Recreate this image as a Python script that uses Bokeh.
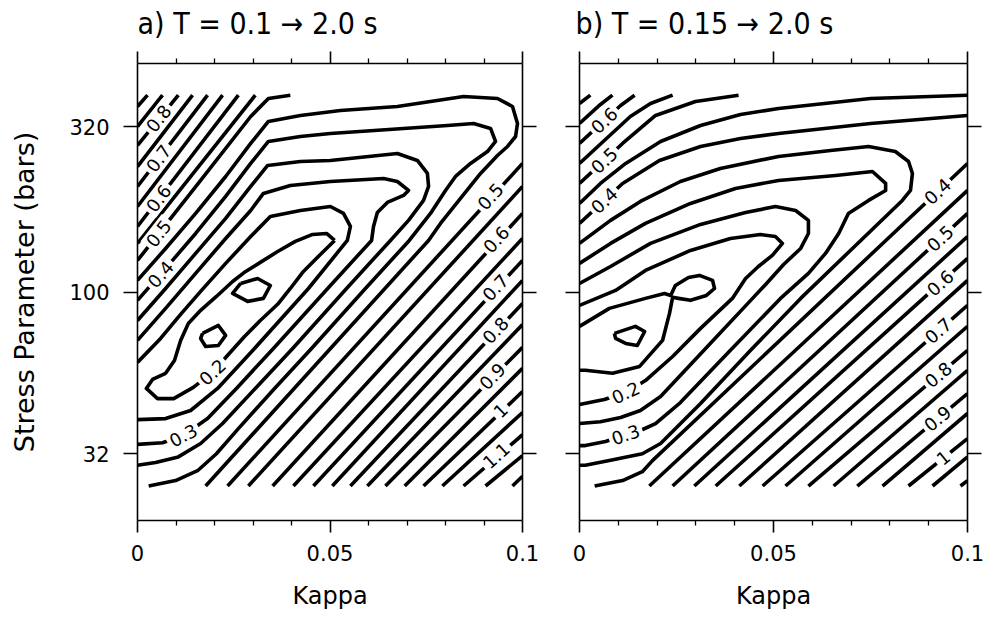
import math
from bokeh.plotting import figure
from bokeh.models import (ColumnDataSource, FixedTicker, LinearAxis, LogAxis,
                          Range1d, CustomJSTickFormatter, CustomLabelingPolicy)
from bokeh.layouts import row
from bokeh.embed import file_html
from bokeh.resources import INLINE
from bokeh.core.properties import value

# ---------------- axes, ticks, texts ----------------
KAPPA_LIMITS = [0.0, 0.1]
STRESS_LIMITS = [20.0, 500.0]
KAPPA_TICKS = [0.0, 0.05, 0.1]
KAPPA_TICK_LABELS = ["0", "0.05", "0.1"]
KAPPA_MINOR_TICKS = [0.01, 0.02, 0.03, 0.04, 0.06, 0.07, 0.08, 0.09]
STRESS_TICKS = [32, 100, 320]
STRESS_TICK_LABELS = ["32", "100", "320"]
X_LABEL = "Kappa"
Y_LABEL = "Stress Parameter (bars)"
TITLE_A = "a) T = 0.1 \u2192 2.0 s"
TITLE_B = "b) T = 0.15 \u2192 2.0 s"

# edges of the misfit grid, where the contour lines stop
GRID_STRESS_BOTTOM = 25.5
GRID_STRESS_TOP = 400.0
GRID_KAPPA_LEFT = 0.0
GRID_KAPPA_RIGHT = 0.1

# ================= panel a : T = 0.1 -> 2.0 s =================
A_C015_LOOP1_KAPPA = [0.0268, 0.0312, 0.0345, 0.0327, 0.0286, 0.0247, 0.0268]
A_C015_LOOP1_STRESS = [106.2, 110.0, 104.7, 95.6, 93.6, 99.0, 106.2]
A_C015_LOOP2_KAPPA = [0.0169, 0.0210, 0.0229, 0.0210, 0.0177, 0.0164, 0.0169]
A_C015_LOOP2_STRESS = [74.7, 79.0, 73.7, 68.6, 68.1, 72.1, 74.7]

A_C020_KAPPA = [0.0512, 0.0475, 0.0431, 0.0397, 0.0364, 0.0319, 0.0278, 0.0236, 0.0195, 0.0145,
                0.0094, 0.0052, 0.0023, 0.0039, 0.0073, 0.0096, 0.0112, 0.0132, 0.0164, 0.0205,
                0.0247, 0.0281, 0.0319, 0.0364, 0.0410, 0.0455, 0.0491, 0.0512]
A_C020_STRESS = [143.8, 130.3, 115.6, 102.5, 91.7, 81.8, 73.1, 64.4, 56.8, 51.1,
                 47.2, 47.2, 50.7, 54.0, 56.4, 61.7, 71.1, 80.1, 87.9, 96.9,
                 107.7, 115.6, 123.2, 133.0, 142.8, 150.0, 151.0, 143.8]

A_C025_KAPPA = [0.0, 0.0060, 0.0112, 0.0164, 0.0229, 0.0294, 0.0345, 0.0423, 0.0501, 0.0535,
                0.0553, 0.0545, 0.0444, 0.0304, 0.0208, 0.0138, 0.0073, 0.0]
A_C025_STRESS = [60.9, 72.1, 85.4, 100.4, 122.3, 147.8, 170.3, 177.6, 182.6, 173.9,
                 158.7, 143.8, 102.5, 67.2, 50.7, 43.4, 41.0, 40.7]

A_C030_KAPPA = [0.0, 0.0073, 0.0151, 0.0229, 0.0294, 0.0327, 0.0397, 0.0501, 0.0639, 0.0675,
                0.0704, 0.0691, 0.0649, 0.0623, 0.0613, 0.0608, 0.0494, 0.0353, 0.0257, 0.0182,
                0.0119, 0.0065, 0.0]
A_C030_STRESS = [71.1, 89.1, 114.0, 145.8, 177.6, 200.2, 211.8, 217.8, 222.5, 217.8,
                 204.5, 197.4, 187.9, 175.1, 158.7, 143.8, 102.5, 67.2, 50.7, 41.0,
                 36.4, 34.6, 34.2]

A_C035_KAPPA = [0.0, 0.0073, 0.0151, 0.0229, 0.0294, 0.0338, 0.0423, 0.0501, 0.0675, 0.0727,
                0.0753, 0.0756, 0.0743, 0.0704, 0.0657, 0.0543, 0.0403, 0.0306, 0.0221, 0.0164,
                0.0106, 0.0047, 0.0]
A_C035_STRESS = [81.8, 102.5, 131.2, 167.9, 210.3, 243.8, 250.8, 252.6, 265.3, 252.6,
                 230.5, 210.3, 190.6, 165.6, 143.8, 102.5, 67.2, 50.7, 39.6, 34.4,
                 31.3, 30.1, 29.5]

A_C040_KAPPA = [0.0, 0.0073, 0.0151, 0.0229, 0.0294, 0.0340, 0.0423, 0.0501, 0.0805, 0.0873,
                0.0917, 0.0930, 0.0909, 0.0865, 0.0826, 0.0800, 0.0761, 0.0706, 0.0592, 0.0452,
                0.0356, 0.0262, 0.0205, 0.0156, 0.0099, 0.0029]
A_C040_STRESS = [94.3, 118.1, 151.0, 196.0, 247.3, 288.7, 299.0, 305.4, 323.1, 327.7,
                 316.4, 288.7, 269.0, 247.3, 225.7, 204.5, 173.9, 143.8, 102.5, 67.2,
                 50.7, 38.2, 32.0, 28.4, 26.5, 25.5]

A_C045_KAPPA = [0.0, 0.0073, 0.0151, 0.0229, 0.0294, 0.0340, 0.0423, 0.0527, 0.0675, 0.0847,
                0.0935, 0.0974, 0.0987, 0.0982, 0.0961, 0.0935, 0.0891, 0.0839, 0.0787, 0.0756,
                0.0177]
A_C045_STRESS = [108.5, 135.9, 173.9, 225.6, 284.7, 332.4, 346.7, 359.1, 369.4, 396.3,
                 390.8, 369.4, 327.7, 299.0, 278.7, 261.6, 230.5, 193.3, 162.1, 143.8,
                 25.5]

A_C050_UPPER_KAPPA = [0.0, 0.0164, 0.0294, 0.0340, 0.0397]
A_C050_UPPER_STRESS = [124.9, 219.4, 344.2, 390.8, 400.0]

# upper-left family: from the left edge of the grid to its top edge
A_UL_LEVELS = [0.55, 0.6, 0.65, 0.7, 0.75, 0.8, 0.85, 0.9]
A_UL_STRESS_AT_LEFT = [140.8, 158.7, 182.6, 210.3, 242.0, 280.7, 320.8, 369.3]
A_UL_KAPPA_AT_TOP = [0.0306, 0.0262, 0.0221, 0.0182, 0.0143, 0.0106, 0.0065, 0.0026]

# lower-right family: from the bottom edge of the grid to its right edge
A_LR_LEVELS = [0.5, 0.55, 0.6, 0.65, 0.7, 0.75, 0.8, 0.85, 0.9, 0.95, 1.0, 1.05, 1.1, 1.15, 1.2]
A_LR_KAPPA_AT_BOTTOM = [0.0234, 0.0288, 0.0351, 0.0405, 0.0457, 0.0506, 0.0553, 0.0597,
                        0.0644, 0.0694, 0.0743, 0.0792, 0.0847, 0.0904, 0.0974]
A_LR_STRESS_AT_RIGHT = [247.3, 210.3, 173.9, 145.8, 124.9, 108.5, 92.3, 79.5,
                        67.7, 58.4, 49.6, 42.8, 36.6, 31.6, 27.3]

A_LABEL_TEXT = ["0.2", "0.3", "0.4", "0.5", "0.6", "0.7", "0.8",
                "0.5", "0.6", "0.7", "0.8", "0.9", "1", "1.1"]
A_LABEL_KAPPA = [0.0195, 0.0119, 0.0060, 0.0055, 0.0055, 0.0055, 0.0055,
                 0.0917, 0.0932, 0.0930, 0.0930, 0.0922, 0.0943, 0.0932]
A_LABEL_STRESS = [56.8, 36.4, 113.2, 151.0, 193.3, 256.2, 339.5,
                  196.0, 144.8, 103.2, 76.3, 55.2, 43.4, 31.6]
A_LABEL_ANGLE_DEG = [43, 28, 49, 52, 53, 53, 52, 48, 48, 47, 47, 46, 44, 42]

# ================= panel b : T = 0.15 -> 2.0 s =================
B_C010_KAPPA = [0.0090, 0.0144, 0.0168, 0.0149, 0.0119, 0.0093, 0.0090]
B_C010_STRESS = [74.7, 78.5, 75.7, 68.6, 69.6, 72.1, 74.7]

B_C015_KAPPA = [0.0, 0.0077, 0.0170, 0.0219, 0.0235, 0.0247, 0.0281, 0.0309, 0.0343, 0.0348,
                0.0327, 0.0286, 0.0255, 0.0240, 0.0232, 0.0214, 0.0155, 0.0085, 0.0015, 0.0]
B_C015_STRESS = [78.5, 89.1, 95.6, 99.0, 97.6, 104.7, 110.8, 112.4, 108.5, 102.5,
                 97.6, 94.3, 95.6, 96.3, 86.0, 71.1, 59.2, 56.4, 57.6, 57.6]

B_C020_KAPPA = [0.0, 0.0093, 0.0170, 0.0286, 0.0389, 0.0466, 0.0505, 0.0523, 0.0497, 0.0461,
                0.0428, 0.0394, 0.0312, 0.0240, 0.0170, 0.0119, 0.0064, 0.0]
B_C020_STRESS = [91.0, 101.1, 116.4, 134.0, 145.8, 149.9, 147.8, 140.8, 129.4, 119.7,
                 110.0, 95.6, 77.4, 63.5, 53.6, 49.2, 46.9, 45.3]

B_C025_KAPPA = [0.0, 0.0080, 0.0183, 0.0312, 0.0428, 0.0505, 0.0557, 0.0590, 0.0590, 0.0570,
                0.0526, 0.0482, 0.0446, 0.0325, 0.0209, 0.0157, 0.0106, 0.0054, 0.0]
B_C025_STRESS = [106.2, 119.7, 140.8, 161.0, 175.1, 182.6, 177.6, 165.6, 151.0, 135.9,
                 121.4, 106.2, 95.6, 67.2, 47.9, 43.4, 41.3, 40.1, 39.6]

B_C030_KAPPA = [0.0, 0.0080, 0.0170, 0.0286, 0.0402, 0.0513, 0.0660, 0.0755, 0.0789, 0.0789,
                0.0745, 0.0693, 0.0668, 0.0634, 0.0590, 0.0518, 0.0389, 0.0260, 0.0196, 0.0157,
                0.0119, 0.0067, 0.0015, 0.0]
B_C030_STRESS = [122.3, 140.8, 162.1, 186.6, 207.4, 219.4, 227.3, 233.7, 214.8, 204.5,
                 190.6, 173.9, 151.0, 131.2, 114.0, 95.6, 66.3, 45.9, 39.6, 37.7,
                 36.6, 34.9, 33.9, 33.9]

B_C035_KAPPA = [0.0, 0.0080, 0.0157, 0.0260, 0.0363, 0.0513, 0.0647, 0.0745, 0.0814, 0.0848,
                0.0858, 0.0853, 0.0832, 0.0570, 0.0441, 0.0312, 0.0209, 0.0162, 0.0077, 0.0015,
                0.0]
B_C035_STRESS = [140.8, 165.6, 189.2, 217.8, 238.7, 259.8, 270.9, 278.7, 269.0, 250.8,
                 230.5, 204.5, 190.6, 95.6, 66.3, 45.6, 34.4, 32.0, 30.5, 29.5,
                 29.5]

B_C040_UPPER_KAPPA = [0.0, 0.0064, 0.0111, 0.0206, 0.0312, 0.0415, 0.0513, 0.0750, 0.1]
B_C040_UPPER_STRESS = [162.1, 190.6, 214.8, 252.6, 278.7, 294.9, 305.4, 327.7, 346.7]
B_C040_LOWER_KAPPA = [0.0039, 0.0111, 0.0162, 0.0188, 0.1]
B_C040_LOWER_STRESS = [25.5, 26.5, 28.2, 30.5, 247.3]

B_C045_UPPER_KAPPA = [0.0, 0.0054, 0.0119, 0.0209, 0.0312, 0.0415, 0.0513, 0.0750, 0.1]
B_C045_UPPER_STRESS = [186.6, 214.8, 247.3, 288.7, 323.1, 349.1, 364.2, 390.8, 400.0]

B_C050_UPPER_KAPPA = [0.0, 0.0064, 0.0111, 0.0196, 0.0299, 0.0410]
B_C050_UPPER_STRESS = [214.8, 252.6, 284.7, 346.7, 382.6, 400.0]
B_C055_UPPER_KAPPA = [0.0, 0.0064, 0.0131, 0.0183, 0.0240]
B_C055_UPPER_STRESS = [247.3, 290.8, 344.2, 377.3, 400.0]
B_C060_UPPER_KAPPA = [0.0, 0.0064, 0.0106, 0.0142]
B_C060_UPPER_STRESS = [284.7, 334.8, 372.0, 400.0]
B_C065_UPPER_KAPPA = [0.0, 0.0054, 0.0085]
B_C065_UPPER_STRESS = [327.7, 374.7, 400.0]
B_C070_UPPER_KAPPA = [0.0, 0.0028]
B_C070_UPPER_STRESS = [377.3, 400.0]

B_LR_LEVELS = [0.45, 0.5, 0.55, 0.6, 0.65, 0.7, 0.75, 0.8, 0.85, 0.9, 0.95, 1.0, 1.05, 1.1]
B_LR_KAPPA_AT_BOTTOM = [0.0180, 0.0240, 0.0296, 0.0351, 0.0412, 0.0472, 0.0531,
                        0.0590, 0.0655, 0.0716, 0.0781, 0.0848, 0.0910, 0.0982]
B_LR_STRESS_AT_RIGHT = [204.5, 173.9, 147.8, 126.7, 108.5, 91.0, 78.5,
                        66.3, 57.6, 48.9, 42.5, 35.6, 31.3, 26.5]

B_LABEL_TEXT = ["0.6", "0.5", "0.4", "0.2", "0.3",
                "0.4", "0.5", "0.6", "0.7", "0.8", "0.9", "1"]
B_LABEL_KAPPA = [0.0064, 0.0064, 0.0064, 0.0119, 0.0119,
                 0.0923, 0.0930, 0.0930, 0.0925, 0.0925, 0.0923, 0.0938]
B_LABEL_STRESS = [334.8, 252.6, 190.6, 49.2, 36.6,
                  203.0, 145.8, 106.5, 76.1, 55.8, 41.0, 31.1]
B_LABEL_ANGLE_DEG = [43, 43, 43, 25, 19, 43, 43, 42, 41, 40, 40, 39]

# ---------------- assemble line lists ----------------
A_CURVES = [
    (A_C015_LOOP1_KAPPA, A_C015_LOOP1_STRESS),
    (A_C015_LOOP2_KAPPA, A_C015_LOOP2_STRESS),
    (A_C020_KAPPA, A_C020_STRESS),
    (A_C025_KAPPA, A_C025_STRESS),
    (A_C030_KAPPA, A_C030_STRESS),
    (A_C035_KAPPA, A_C035_STRESS),
    (A_C040_KAPPA, A_C040_STRESS),
    (A_C045_KAPPA, A_C045_STRESS),
    (A_C050_UPPER_KAPPA, A_C050_UPPER_STRESS),
]
B_CURVES = [
    (B_C010_KAPPA, B_C010_STRESS),
    (B_C015_KAPPA, B_C015_STRESS),
    (B_C020_KAPPA, B_C020_STRESS),
    (B_C025_KAPPA, B_C025_STRESS),
    (B_C030_KAPPA, B_C030_STRESS),
    (B_C035_KAPPA, B_C035_STRESS),
    (B_C040_UPPER_KAPPA, B_C040_UPPER_STRESS),
    (B_C040_LOWER_KAPPA, B_C040_LOWER_STRESS),
    (B_C045_UPPER_KAPPA, B_C045_UPPER_STRESS),
    (B_C050_UPPER_KAPPA, B_C050_UPPER_STRESS),
    (B_C055_UPPER_KAPPA, B_C055_UPPER_STRESS),
    (B_C060_UPPER_KAPPA, B_C060_UPPER_STRESS),
    (B_C065_UPPER_KAPPA, B_C065_UPPER_STRESS),
    (B_C070_UPPER_KAPPA, B_C070_UPPER_STRESS),
]


def collect(curves, lr_kb, lr_sr, ul_sl=None, ul_kt=None):
    xs = [list(k) for k, s in curves]
    ys = [list(s) for k, s in curves]
    for kb, sr in zip(lr_kb, lr_sr):
        xs.append([kb, GRID_KAPPA_RIGHT])
        ys.append([GRID_STRESS_BOTTOM, sr])
    if ul_sl is not None:
        for sl, kt in zip(ul_sl, ul_kt):
            xs.append([GRID_KAPPA_LEFT, kt])
            ys.append([sl, GRID_STRESS_TOP])
    return xs, ys


A_XS, A_YS = collect(A_CURVES, A_LR_KAPPA_AT_BOTTOM, A_LR_STRESS_AT_RIGHT,
                     A_UL_STRESS_AT_LEFT, A_UL_KAPPA_AT_TOP)
B_XS, B_YS = collect(B_CURVES, B_LR_KAPPA_AT_BOTTOM, B_LR_STRESS_AT_RIGHT)

FONT = "DejaVu Sans"
TITLE_FONT = "Liberation Sans Narrow, DejaVu Sans Condensed, Liberation Sans"


def formatter(ticks, labels):
    return CustomJSTickFormatter(
        args=dict(tv=ticks, tl=labels),
        code="const i = tv.findIndex(t => Math.abs(t - tick) < 1e-9); return i >= 0 ? tl[i] : '';")


def no_labels_policy():
    return CustomLabelingPolicy(code="for (const i of indices) { indices.unset(i) } return indices")


def style_axis(ax, tick_out, minor_out, show_labels):
    ax.axis_line_color = "black"
    ax.axis_line_width = 1.6
    ax.major_tick_line_color = "black"
    ax.major_tick_line_width = 1.6
    ax.minor_tick_line_color = "black"
    ax.minor_tick_line_width = 1.3
    ax.major_tick_in = 0
    ax.major_tick_out = tick_out
    ax.minor_tick_in = 0
    ax.minor_tick_out = minor_out
    ax.major_label_text_font = FONT
    ax.major_label_text_color = "black"
    if show_labels:
        ax.major_label_text_font_size = "21px"
    else:
        ax.major_label_text_font_size = "1px"
        ax.major_label_standoff = 0
        ax.major_label_policy = no_labels_policy()
    ax.axis_label_text_font = FONT
    ax.axis_label_text_font_style = "normal"
    ax.axis_label_text_color = "black"


def make_panel(title, title_dx, xs, ys, lab_k, lab_s, lab_t, lab_a, width, bl, br, y_labels):
    p = figure(width=width, height=618,
               x_range=Range1d(*KAPPA_LIMITS), y_range=Range1d(*STRESS_LIMITS),
               y_axis_type="log", output_backend="svg", toolbar_location=None,
               min_border_left=bl, min_border_right=br,
               min_border_top=63, min_border_bottom=98,
               background_fill_color="white", border_fill_color="white")
    p.outline_line_color = None
    p.xgrid.visible = False
    p.ygrid.visible = False

    xt = FixedTicker(ticks=KAPPA_TICKS, minor_ticks=KAPPA_MINOR_TICKS)
    yt = FixedTicker(ticks=STRESS_TICKS, minor_ticks=[])

    xb = p.xaxis[0]
    xb.ticker = xt
    xb.formatter = formatter(KAPPA_TICKS, KAPPA_TICK_LABELS)
    style_axis(xb, 12, 5, True)
    xb.major_label_standoff = 12
    xb.axis_label = X_LABEL
    xb.axis_label_text_font_size = "24px"
    xb.axis_label_standoff = 18

    yl = p.yaxis[0]
    yl.ticker = yt
    yl.formatter = formatter(STRESS_TICKS, STRESS_TICK_LABELS)
    style_axis(yl, 14, 0, y_labels)
    if y_labels:
        yl.major_label_standoff = 14
        yl.axis_label = Y_LABEL
        yl.axis_label_text_font_size = "27px"
        yl.axis_label_standoff = 26

    xa = LinearAxis(ticker=FixedTicker(ticks=KAPPA_TICKS, minor_ticks=KAPPA_MINOR_TICKS),
                    formatter=formatter(KAPPA_TICKS, KAPPA_TICK_LABELS))
    style_axis(xa, 12, 5, False)
    p.add_layout(xa, "above")

    yr = LogAxis(ticker=FixedTicker(ticks=STRESS_TICKS, minor_ticks=[]),
                 formatter=formatter(STRESS_TICKS, STRESS_TICK_LABELS))
    style_axis(yr, 14, 0, False)
    p.add_layout(yr, "right")

    p.multi_line(xs=xs, ys=ys, line_color="black", line_width=3.6,
                 line_join="round", line_cap="butt")

    src = ColumnDataSource(dict(x=lab_k, y=lab_s, text=lab_t,
                                angle=[math.radians(a) for a in lab_a]))
    p.text(x="x", y="y", text="text", angle="angle", source=src,
           text_font=value(FONT), text_font_size=value("18px"),
           text_align="center", text_baseline="middle", text_color="black",
           background_fill_color="white", padding=3)

    p.title.text = title
    p.title.text_font = TITLE_FONT
    p.title.text_font_size = "30px"
    p.title.text_font_style = "normal"
    p.title.text_color = "black"
    p.title.align = "left"
    p.title.offset = title_dx
    p.title.vertical_align = "top"
    p.title.standoff = 9
    return p


pa = make_panel(TITLE_A, 0, A_XS, A_YS, A_LABEL_KAPPA, A_LABEL_STRESS, A_LABEL_TEXT,
                A_LABEL_ANGLE_DEG, 550, 137, 28, True)
pb = make_panel(TITLE_B, -4, B_XS, B_YS, B_LABEL_KAPPA, B_LABEL_STRESS, B_LABEL_TEXT,
                B_LABEL_ANGLE_DEG, 444, 29, 27, False)

layout = row(pa, pb)
open("out.html", "w").write(file_html(layout, INLINE))
